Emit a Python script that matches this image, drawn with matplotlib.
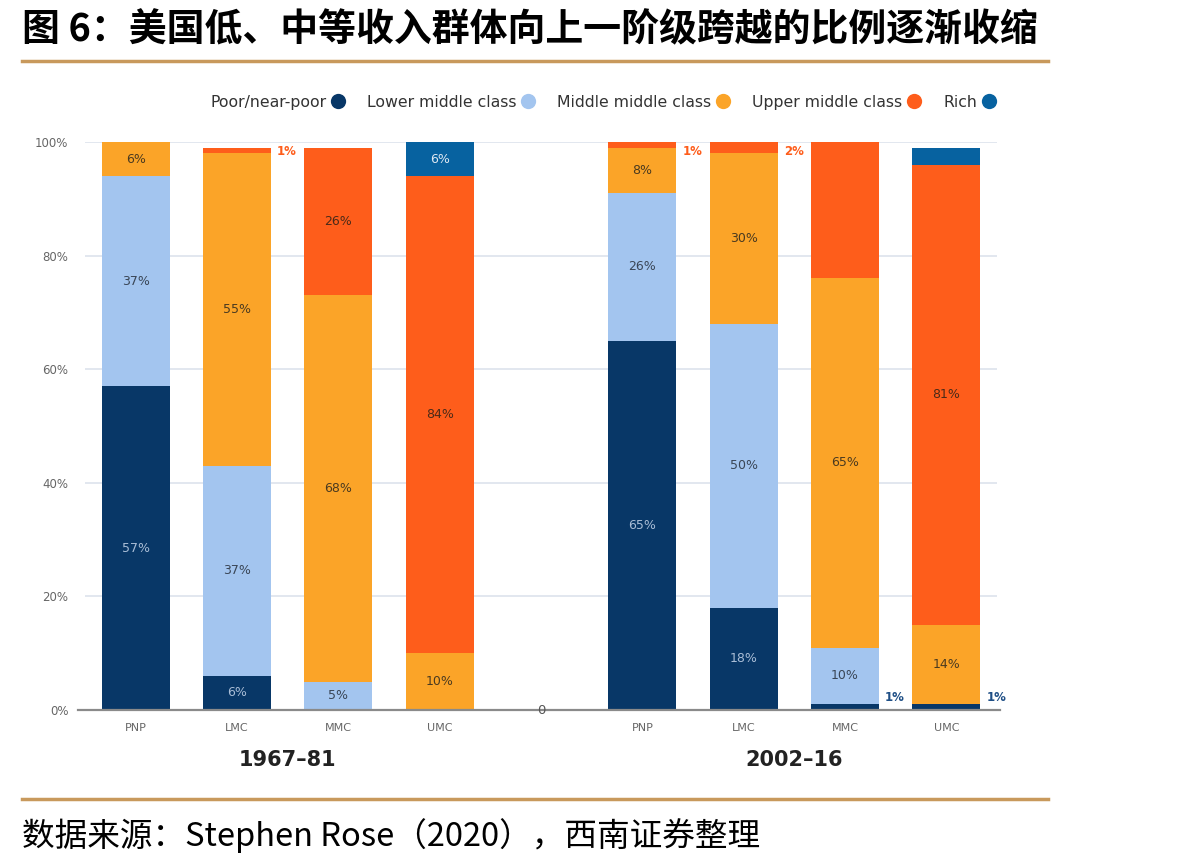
import numpy as np
import matplotlib
matplotlib.use("Agg")
import matplotlib.pyplot as plt
from matplotlib.lines import Line2D

# Data (share of each origin group ending in each class, %)
bar_labels = ["PNP", "LMC", "MMC", "UMC", "0", "PNP", "LMC", "MMC", "UMC"]
bar_pos = [0, 1, 2, 3, 5, 6, 7, 8]
periods = ["1967\u201381", "2002\u201316"]

series_names = ["Poor/near-poor", "Lower middle class", "Middle middle class",
                "Upper middle class", "Rich"]
poor = [57, 6, 0, 0, 65, 18, 1, 1]
lower = [37, 37, 5, 0, 26, 50, 10, 0]
middle = [6, 55, 68, 10, 8, 30, 65, 14]
upper = [0, 1, 26, 84, 1, 2, 24, 81]
rich = [0, 0, 0, 6, 0, 0, 0, 3]

# segments drawn without a label in the original
hidden = {(3, 6), (4, 7)}

colors = ["#083767", "#a3c5ef", "#fba428", "#fe5d1b", "#0762a0"]
text_colors = ["#a9bdd6", "#3a4656", "#4a3a20", "#4a2a18", "#dfe8f2"]
out_colors = ["#1f4f86", "#6f98cc", "#f08a10", "#fe5d1b", "#0762a0"]

fig = plt.figure(figsize=(12.01, 8.68), dpi=100)
ax = fig.add_axes([0.0708, 0.182, 0.7594, 0.6544])

series = [poor, lower, middle, upper, rich]
x = np.array(bar_pos)
bottom = np.zeros(len(x))
width = 0.67
for k, vals in enumerate(series):
    v = np.array(vals, dtype=float)
    ax.bar(x, v, width, bottom=bottom, color=colors[k], edgecolor="none", zorder=3)
    for i, val in enumerate(v):
        if val == 0 or (k, i) in hidden:
            continue
        yc = bottom[i] + val / 2
        if val >= 5:
            ax.text(x[i], yc, f"{int(val)}%", ha="center", va="center",
                    fontsize=9, color=text_colors[k], zorder=4)
        else:
            ax.text(x[i] + width / 2 + 0.06, min(max(yc, 2.2), 98.3), f"{int(val)}%",
                    ha="left", va="center", fontsize=8.5, fontweight="bold",
                    color=out_colors[k], zorder=4)
    bottom += v

ax.set_xlim(-0.5, 8.5)
ax.set_ylim(0, 100)
ax.set_yticks([0, 20, 40, 60, 80, 100])
ax.set_yticklabels([f"{t}%" for t in [0, 20, 40, 60, 80, 100]])
ax.grid(axis="y", color="#dde3ec", linewidth=1.2, zorder=0)
ax.set_axisbelow(True)
for s in ["top", "right", "left", "bottom"]:
    ax.spines[s].set_visible(False)
ax.axhline(0, xmin=-0.008, xmax=1.003, color="#8a8a8a", linewidth=1.6, zorder=5, clip_on=False)
ax.tick_params(axis="y", length=0, labelsize=8.5, labelcolor="#666666", pad=12)
ax.set_xticks(range(len(bar_labels)))
ax.set_xticklabels(bar_labels)
ax.tick_params(axis="x", length=0, labelsize=8, labelcolor="#666666", pad=9)
# the "0" label sits on the baseline
ax.get_xticklabels()[4].set_visible(False)
ax.text(4, 0, "0", ha="center", va="center", fontsize=9.5, color="#555555", zorder=6)

ax.text(1.5, -8.8, periods[0], ha="center", va="center", fontsize=15,
        fontweight="bold", color="#222222")
ax.text(6.5, -8.8, periods[1], ha="center", va="center", fontsize=15,
        fontweight="bold", color="#222222")

handles = [Line2D([], [], marker="o", linestyle="none", markersize=11,
                  markerfacecolor=c, markeredgecolor="none") for c in colors]
fig.legend(handles, series_names, loc="center", bbox_to_anchor=(0.503, 0.882),
           ncol=5, frameon=False, markerfirst=False,
           handletextpad=0.15, handlelength=1.2, columnspacing=1.25,
           labelcolor="#333333", prop={"size": 11.3})

# title, rules and source
fig.text(0.018, 0.966, "图 6：美国低、中等收入群体向上一阶级跨越的比例逐渐收缩",
         ha="left", va="center", fontsize=27.3, fontweight="bold",
         family=["Noto Sans CJK SC", "DejaVu Sans"], color="#000000")
fig.add_artist(Line2D([0.018, 0.873], [0.930, 0.930], color="#c8995c", linewidth=2.5))
fig.add_artist(Line2D([0.018, 0.873], [0.079, 0.079], color="#c8995c", linewidth=2.5))
fig.text(0.018, 0.037, "数据来源：Stephen Rose（2020），西南证券整理",
         ha="left", va="center", fontsize=23.5, style="italic",
         family=["Noto Sans CJK SC", "DejaVu Sans"], color="#000000")

fig.savefig("out.png", dpi=100)
